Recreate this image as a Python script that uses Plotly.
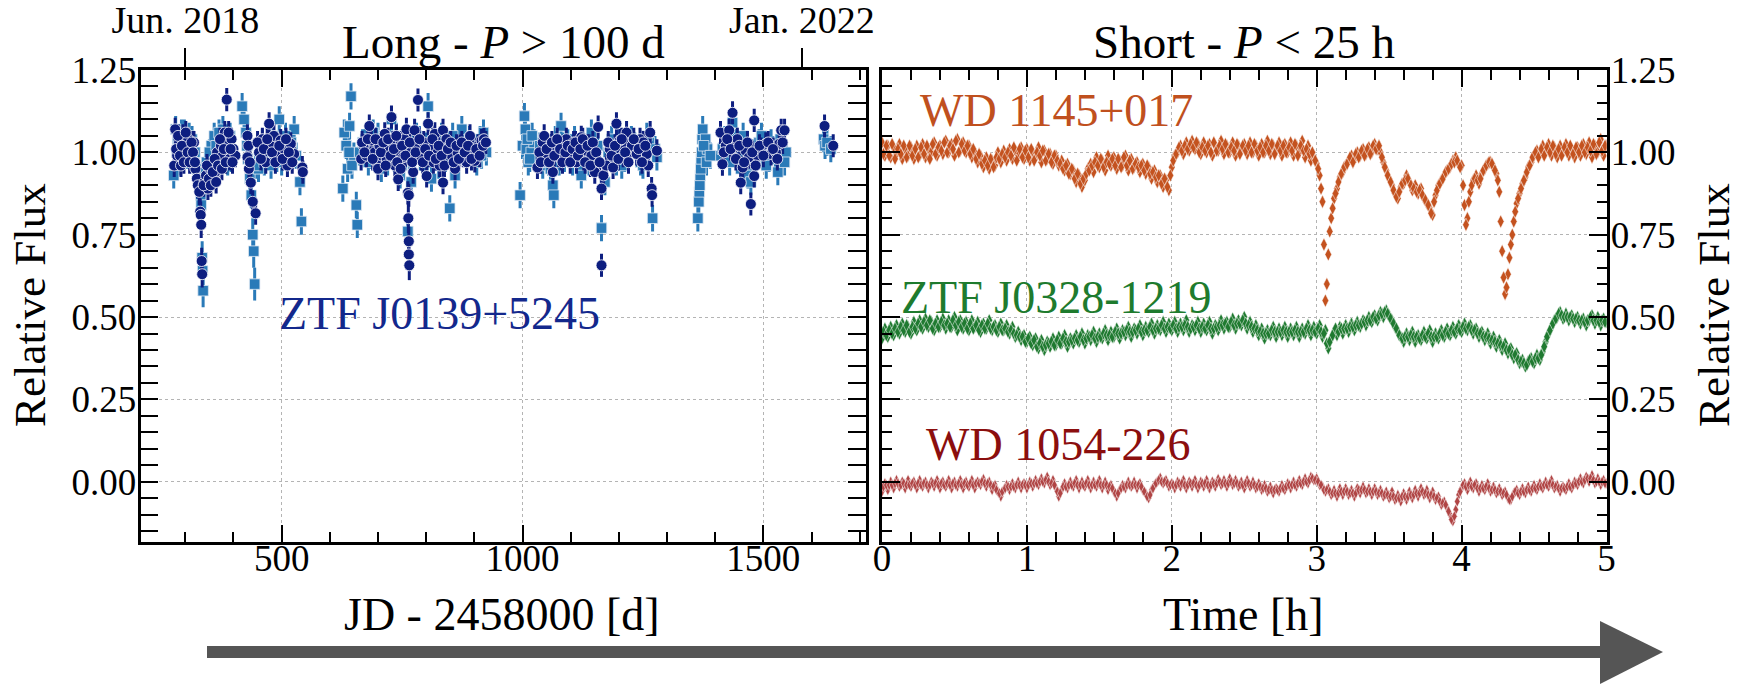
import plotly.graph_objects as go

W, H = 1741, 685
FONT = "Liberation Serif"

# ---------------- Long-period panel: ZTF J0139+5245 ----------------
sq_jd = [276, 280, 284, 288, 292, 296, 300, 304, 308, 312, 318, 324, 328, 332, 333, 335, 336, 337,
         342, 348, 354, 360, 366, 372, 378, 384, 390, 395,
         418, 422, 426, 430, 434, 437, 440, 442, 444, 452, 460, 468, 474, 482, 490, 495, 504, 512,
         520, 526, 538, 541,
         627, 630, 634, 637, 641, 644, 650, 655, 657, 668, 680, 693, 700, 707, 716, 728, 734, 738,
         746, 755, 762, 769, 776, 786, 795, 804, 811, 822, 832, 840, 849, 860, 868, 874, 884, 895,
         905, 912, 919, 925,
         995, 1000, 1004, 1006, 1008, 1012, 1018, 1024, 1030, 1042, 1050, 1058, 1063, 1065, 1072,
         1080, 1087, 1094, 1104, 1114, 1122, 1132, 1143, 1150, 1164, 1171, 1178, 1185, 1195, 1206,
         1218, 1233, 1245, 1254, 1263, 1270, 1279,
         1364, 1366, 1367, 1368, 1369, 1370, 1371, 1372, 1373, 1374, 1380, 1382, 1384, 1410, 1415,
         1425, 1436, 1442, 1453, 1462, 1468, 1474, 1484, 1491, 1500, 1512, 1520, 1530, 1540, 1547,
         1625, 1628, 1632, 1640,
         282, 290, 298, 306, 314, 320, 344, 350, 356, 364, 370, 376, 382, 388, 393,
         428, 446, 456, 464, 472, 478, 486, 500, 508, 516, 530,
         640, 646, 662, 674, 686, 690, 712, 720, 742, 750, 758, 766, 780, 790, 800, 815, 826, 836,
         845, 855, 864, 878, 890, 900, 915,
         1010, 1015, 1020, 1036, 1046, 1054, 1068, 1076, 1084, 1098, 1108, 1118, 1126, 1138, 1156,
         1190, 1200, 1212, 1226, 1240, 1250, 1258, 1275,
         1376, 1390, 1420, 1430, 1448, 1458, 1478, 1496, 1506, 1516, 1525, 1535, 1544]
sq_flux = [0.93, 1.07, 1.04, 1.02, 1.06, 1.00, 1.03, 0.99, 1.05, 1.01, 0.97, 0.95, 0.92, 0.87, 0.84, 0.68, 0.64, 0.58,
           0.94, 0.97, 1.02, 1.05, 0.99, 1.03, 1.07, 1.01, 1.04, 0.98,
           1.14, 1.10, 1.06, 0.98, 0.92, 0.87, 0.75, 0.70, 0.60, 0.95, 1.03, 0.99, 1.00, 1.05, 0.98, 1.10, 1.02, 0.98,
           1.03, 1.07, 0.91, 0.79,
           0.89, 1.06, 1.02, 0.95, 1.08, 1.17, 0.99, 0.84, 0.78, 1.03, 0.97, 1.02, 1.05, 0.95, 1.00, 1.10, 0.98, 1.05,
           0.93, 1.01, 0.76, 0.91, 0.99, 1.03, 0.96, 1.14, 0.92, 1.02, 1.05, 0.98, 0.83, 0.93, 1.01, 1.07, 0.99, 1.02,
           0.97, 1.04, 1.06, 1.00,
           0.87, 1.02, 1.11, 1.07, 1.01, 0.97, 1.00, 1.03, 0.98, 0.96, 1.02, 0.95, 0.90, 0.87, 1.00,
           1.08, 0.98, 1.03, 0.97, 1.01, 0.93, 1.00, 1.06, 0.98, 0.77, 0.91, 1.00, 1.04, 0.97, 0.96,
           1.01, 1.02, 0.97, 0.99, 1.03, 0.80, 0.985,
           0.80, 0.85, 0.88, 0.90, 0.93, 0.95, 0.98, 1.00, 1.04, 1.07, 1.04, 0.97, 1.01, 0.99, 1.01,
           1.00, 1.09, 1.03, 0.95, 1.00, 0.93, 0.91, 0.98, 1.03, 0.99, 0.98, 1.01, 0.94, 1.02, 1.00,
           1.04, 1.02, 1.03, 1.01,
           1.00, 0.97, 1.06, 1.02, 1.04, 1.00, 0.97, 1.00, 0.95, 1.02, 1.06, 0.99, 1.03, 0.97, 1.05,
           1.02, 0.96, 1.00, 0.97, 1.04, 0.96, 1.01, 0.97, 1.05, 1.00, 0.99,
           1.00, 0.96, 1.00, 1.04, 0.99, 1.06, 1.03, 0.97, 1.02, 0.96, 1.03, 0.98, 1.05, 0.99, 1.02, 1.00, 0.96, 1.03,
           1.00, 1.05, 0.98, 1.02, 1.04, 1.00, 0.99,
           1.04, 0.98, 1.05, 1.02, 1.00, 0.97, 1.04, 0.97, 1.02, 1.00, 1.04, 0.98, 1.02, 0.97, 1.02,
           0.99, 1.03, 0.98, 1.04, 1.00, 0.96, 1.05, 1.01,
           1.02, 0.99, 1.04, 0.97, 1.00, 1.05, 1.00, 1.05, 0.96, 1.03, 0.99, 1.04, 0.97]
sq_err = [0.04] * 15 + [0.05, 0.05, 0.05] + [0.04] * 16 + [0.05, 0.05, 0.05] + [0.04] * 36 + [0.05] + \
         [0.04] * (len(sq_jd) - 73)

ci_jd = [277, 279, 283, 287, 291, 295, 299, 303, 306, 310, 314, 318, 321, 324, 326, 329, 331, 332, 333, 334,
         335, 340, 343, 347, 351, 355, 358, 362, 366, 370, 374, 378, 382, 386, 388, 392, 396, 400, 404,
         429, 429, 432, 436, 440, 446, 453, 460, 467, 474, 477, 484, 491, 498, 505, 512, 519, 526, 543, 544,
         665, 670, 676, 682, 686, 693, 697, 703, 708, 714, 718, 724, 728, 731, 735, 742, 745, 748, 752,
         755, 759, 762, 764, 763, 764, 764, 765, 768, 773, 776, 780, 783, 790, 795, 801, 804, 811, 815,
         818, 824, 828, 835, 835, 842, 848, 853, 860, 865, 870, 877, 884, 891, 896, 901, 908, 915, 920,
         1031, 1042, 1047, 1052, 1058, 1063, 1070, 1075, 1080, 1086, 1091, 1096, 1101, 1106, 1112, 1117,
         1122, 1127, 1132, 1138, 1143, 1150, 1157, 1164, 1164, 1168, 1174, 1181, 1188, 1195, 1202, 1209,
         1216, 1222, 1227, 1237, 1244, 1251, 1258, 1261, 1265, 1268, 1269, 1279,
         1411, 1415, 1422, 1429, 1436, 1439, 1446, 1453, 1457, 1463, 1470, 1474, 1481, 1481, 1488, 1495,
         1505, 1516, 1526, 1533, 1537, 1544,
         1627, 1645,
         281, 285, 289, 293, 297, 301, 305, 309, 313, 316, 320, 338, 345, 349, 353, 357, 361, 364, 368,
         372, 376, 380, 384, 390, 394, 398,
         431, 434, 450, 457, 463, 470, 480, 487, 495, 502, 509, 515, 522,
         667, 672, 679, 689, 695, 700, 706, 711, 716, 721, 726, 733, 738, 740, 747, 750, 757, 766, 771,
         778, 786, 793, 798, 806, 813, 820, 826, 832, 838, 845, 851, 857, 863, 868, 874, 880, 887, 894,
         904, 911, 918, 924,
         1035, 1038, 1045, 1050, 1055, 1061, 1066, 1072, 1078, 1083, 1089, 1094, 1099, 1104, 1110, 1115,
         1120, 1125, 1130, 1135, 1141, 1146, 1153, 1160, 1178, 1185, 1192, 1199, 1206, 1213, 1220, 1231,
         1241, 1248, 1255,
         1418, 1425, 1432, 1443, 1450, 1460, 1467, 1477, 1484, 1492, 1500, 1510, 1520, 1529, 1540]
ci_flux = [0.96, 1.07, 0.99, 1.03, 0.96, 1.05, 1.02, 0.99, 1.04, 1.01, 0.98, 1.03, 0.95, 0.92, 0.90, 0.88, 0.82, 0.81, 0.78, 0.67,
           0.63, 0.91, 0.93, 0.89, 0.95, 0.92, 0.96, 0.94, 1.00, 0.97, 1.02, 0.99, 1.06, 1.16, 1.03, 0.98, 1.04, 1.01, 0.99,
           1.05, 0.985, 0.95, 0.908, 0.85, 0.815, 1.00, 1.04, 0.97, 1.087, 1.02, 1.05, 0.99, 1.036, 1.01, 0.96, 1.026, 0.995, 0.954, 0.94,
           0.98, 1.02, 0.99, 1.08, 1.036, 1.00, 0.97, 1.02, 0.99, 1.056, 0.98, 1.01, 1.107, 1.03, 0.96, 0.918, 1.00, 1.03, 0.985,
           1.04, 1.07, 0.877, 0.87, 0.80, 0.73, 0.69, 0.657, 1.00, 0.94, 1.067, 1.02, 1.159, 0.98, 1.03, 0.928, 1.087, 1.01, 0.97,
           1.056, 1.00, 0.96, 0.908, 1.067, 1.04, 1.02, 0.99, 0.95, 1.00, 1.02, 0.99, 0.97, 1.05, 1.01, 0.974, 1.02, 1.036, 1.04,
           0.954, 1.03, 1.00, 0.99, 1.02, 0.94, 1.01, 0.99, 0.98, 1.02, 1.04, 0.99, 1.00, 1.03, 0.97, 1.00,
           1.046, 0.98, 1.005, 1.02, 0.99, 0.94, 1.077, 0.89, 0.657, 0.93, 0.96, 1.01, 0.954, 1.087, 1.036, 0.99,
           1.06, 1.00, 1.02, 0.995, 1.04, 1.03, 0.995, 0.96, 1.06, 0.89, 0.87, 1.005,
           1.06, 0.964, 1.02, 1.067, 1.12, 1.015, 1.04, 0.908, 0.954, 1.005, 0.985, 0.843, 1.097, 0.928, 0.99, 1.01,
           1.026, 0.995, 1.00, 1.026, 1.067, 1.067,
           1.08, 1.02,
           1.01, 1.05, 0.99, 1.02, 0.97, 1.06, 1.00, 0.97, 1.03, 1.00, 0.97, 0.90, 0.96, 0.92, 0.90, 0.94, 0.98, 0.91, 0.96,
           1.04, 0.95, 1.01, 0.97, 1.06, 1.01, 0.97,
           1.02, 0.97, 1.03, 0.98, 1.01, 1.04, 1.00, 0.97, 1.02, 0.98, 1.04, 1.00, 0.97,
           1.03, 1.00, 1.04, 0.98, 1.04, 0.95, 1.00, 1.03, 0.96, 1.04, 0.99, 1.01, 1.05, 0.97, 0.95, 1.02, 0.99, 1.03, 0.97,
           1.00, 1.04, 0.97, 1.01, 0.99, 1.04, 0.98, 1.02, 0.99, 0.96, 1.01, 1.03, 0.97, 1.02, 0.98, 1.03, 1.00, 1.02, 0.98,
           1.01, 0.99, 1.02, 1.03,
           1.00, 0.97, 1.05, 1.01, 0.97, 1.03, 0.99, 1.04, 1.01, 0.97, 1.00, 1.02, 0.97, 1.01, 1.03, 0.99,
           1.01, 1.04, 0.97, 1.02, 0.96, 1.03, 1.00, 0.97, 1.03, 0.99, 1.02, 0.98, 1.04, 1.00, 0.97, 1.04,
           1.01, 0.97, 1.02,
           1.00, 1.04, 1.01, 0.98, 1.02, 0.97, 1.03, 1.00, 0.96, 1.02, 0.99, 1.03, 1.01, 0.98, 1.03]
ci_err = [0.035] * 14 + [0.04] * 7 + [0.035] * 61 + [0.045] * 4 + [0.035] * (len(ci_jd) - 86)

# ---------------- Short-period panel ----------------
# set A: samples at 0.00, 0.02, ... 5.00 h ; set B: samples at 0.01, 0.03, ... 4.99 h
T_STEP_H = 0.02
wd1145_flux_a = [
    1.03, 0.99, 1.02, 0.985, 1.015, 0.995, 1.025, 0.98, 1.01, 0.99,
    1.015, 0.98, 1.02, 0.99, 1.025, 0.985, 1.01, 1.00, 1.03, 0.99,
    1.02, 0.995, 1.035, 1.0, 1.025, 0.99, 1.04, 1.005, 1.03, 1.0,
    1.02, 0.985, 1.0, 0.97, 0.99, 0.955, 0.985, 0.95, 0.975, 0.96,
    1.0, 0.97, 1.005, 0.975, 1.01, 0.98, 1.005, 0.99, 1.015, 0.98,
    1.01, 0.975, 1.0, 0.985, 1.015, 0.97, 1.005, 0.98, 0.995, 0.965,
    0.99, 0.96, 0.975, 0.945, 0.965, 0.935, 0.945, 0.91, 0.93, 0.895,
    0.915, 0.95, 0.965, 0.94, 0.985, 0.955, 0.975, 0.945, 0.99, 0.96,
    0.985, 0.95, 0.975, 0.96, 0.99, 0.945, 0.98, 0.955, 0.97, 0.94,
    0.965, 0.935, 0.955, 0.92, 0.945, 0.91, 0.93, 0.895, 0.915, 0.885,
    0.955, 0.99, 1.0, 1.02, 0.995, 1.03, 1.005, 1.035, 1.01, 1.025,
    0.995, 1.03, 1.0, 1.025, 0.99, 1.02, 1.005, 1.035, 0.995, 1.02,
    1.0, 1.03, 0.99, 1.02, 1.005, 1.025, 0.995, 1.03, 1.0, 1.02,
    0.99, 1.025, 1.0, 1.035, 0.995, 1.02, 1.005, 1.03, 0.99, 1.025,
    1.0, 1.03, 0.99, 1.02, 1.0, 1.035, 0.985, 1.02, 0.975, 0.985,
    0.965, 0.93, 0.85, 0.55, 0.69, 0.80, 0.86, 0.89, 0.925, 0.94,
    0.96, 0.975, 0.99, 0.98, 1.0, 0.99, 1.01, 0.995, 1.015, 1.0,
    1.025, 1.01, 1.0, 0.97, 0.945, 0.92, 0.9, 0.875, 0.86, 0.895,
    0.905, 0.93, 0.91, 0.885, 0.9, 0.875, 0.89, 0.86, 0.845, 0.83,
    0.81, 0.87, 0.9, 0.915, 0.93, 0.945, 0.955, 0.975, 0.985, 0.965,
    0.96, 0.84, 0.80, 0.88, 0.915, 0.93, 0.905, 0.935, 0.95, 0.965,
    0.97, 0.955, 0.935, 0.88, 0.70, 0.57, 0.63, 0.72, 0.79, 0.845,
    0.875, 0.905, 0.925, 0.955, 0.97, 0.99, 1.005, 0.995, 1.02, 1.0,
    1.025, 0.99, 1.015, 0.985, 1.02, 1.0, 1.025, 0.99, 1.01, 0.985,
    1.015, 0.99, 1.025, 0.995, 1.03, 0.985, 1.02, 1.0, 1.04, 0.99,
    1.02]
wd1145_flux_b = [
    0.995, 1.02, 0.99, 1.025, 0.98, 1.01, 0.995, 1.02, 0.985, 1.02,
    0.99, 1.01, 0.985, 1.015, 0.995, 1.02, 0.98, 1.025, 0.995, 1.015,
    1.005, 1.03, 1.0, 1.02, 1.01, 1.035, 1.0, 1.025, 1.005, 1.02,
    0.995, 1.01, 0.98, 0.995, 0.965, 0.975, 0.96, 0.98, 0.955, 0.985,
    0.98, 0.995, 0.985, 1.0, 0.99, 1.015, 0.975, 1.01, 0.985, 1.005,
    0.985, 1.01, 0.975, 1.0, 0.99, 1.005, 0.975, 0.995, 0.97, 0.99,
    0.975, 0.965, 0.95, 0.96, 0.935, 0.95, 0.92, 0.935, 0.905, 0.92,
    0.935, 0.945, 0.96, 0.97, 0.96, 0.98, 0.955, 0.97, 0.965, 0.98,
    0.96, 0.98, 0.955, 0.985, 0.96, 0.975, 0.95, 0.965, 0.955, 0.96,
    0.945, 0.96, 0.935, 0.94, 0.925, 0.93, 0.905, 0.92, 0.895, 0.93,
    0.975, 0.995, 1.015, 1.005, 1.02, 1.01, 1.025, 1.015, 1.03, 1.0,
    1.015, 1.005, 1.02, 1.0, 1.03, 1.005, 1.02, 1.01, 1.025, 1.0,
    1.015, 1.005, 1.025, 0.995, 1.02, 1.005, 1.02, 1.0, 1.025, 1.005,
    1.015, 1.0, 1.02, 1.005, 1.025, 0.995, 1.02, 1.005, 1.02, 1.0,
    1.015, 1.005, 1.025, 0.99, 1.02, 1.005, 1.01, 0.995, 1.0, 0.975,
    0.95, 0.89, 0.72, 0.60, 0.76, 0.83, 0.875, 0.91, 0.935, 0.955,
    0.965, 0.985, 0.97, 0.995, 0.985, 1.005, 0.99, 1.01, 0.995, 1.02,
    1.01, 1.02, 0.985, 0.955, 0.93, 0.91, 0.885, 0.865, 0.88, 0.905,
    0.915, 0.92, 0.9, 0.89, 0.88, 0.885, 0.87, 0.855, 0.84, 0.815,
    0.85, 0.885, 0.905, 0.92, 0.94, 0.95, 0.965, 0.97, 0.975, 0.955,
    0.9, 0.78, 0.85, 0.9, 0.92, 0.915, 0.92, 0.945, 0.96, 0.97,
    0.965, 0.945, 0.915, 0.79, 0.62, 0.59, 0.68, 0.75, 0.82, 0.86,
    0.89, 0.915, 0.94, 0.96, 0.985, 1.0, 0.985, 1.01, 0.99, 1.015,
    1.0, 1.02, 0.995, 1.01, 0.99, 1.015, 1.0, 1.02, 0.995, 1.015,
    1.0, 1.02, 1.0, 1.015, 1.005, 1.025, 0.995, 1.03, 1.005, 1.02]
ztf0328_flux_a = [
    0.435, 0.465, 0.44, 0.47, 0.445, 0.475, 0.45, 0.48, 0.455, 0.47,
    0.45, 0.485, 0.46, 0.49, 0.465, 0.495, 0.47, 0.485, 0.46, 0.49,
    0.47, 0.495, 0.465, 0.49, 0.47, 0.5, 0.46, 0.49, 0.465, 0.485,
    0.46, 0.49, 0.47, 0.485, 0.455, 0.48, 0.465, 0.49, 0.46, 0.475,
    0.455, 0.48, 0.46, 0.475, 0.45, 0.47, 0.44, 0.455, 0.43, 0.445,
    0.425, 0.44, 0.415, 0.435, 0.405, 0.43, 0.4, 0.425, 0.41, 0.435,
    0.415, 0.44, 0.42, 0.445, 0.41, 0.435, 0.42, 0.445, 0.425, 0.45,
    0.42, 0.445, 0.43, 0.455, 0.425, 0.45, 0.435, 0.46, 0.43, 0.455,
    0.44, 0.465, 0.435, 0.46, 0.445, 0.47, 0.44, 0.465, 0.45, 0.475,
    0.445, 0.47, 0.455, 0.48, 0.45, 0.475, 0.46, 0.485, 0.455, 0.48,
    0.46, 0.485, 0.455, 0.48, 0.46, 0.49, 0.455, 0.475, 0.46, 0.485,
    0.455, 0.48, 0.46, 0.485, 0.45, 0.475, 0.46, 0.49, 0.465, 0.485,
    0.47, 0.495, 0.465, 0.49, 0.475, 0.5, 0.465, 0.485, 0.455, 0.475,
    0.445, 0.465, 0.435, 0.46, 0.445, 0.47, 0.44, 0.465, 0.445, 0.47,
    0.44, 0.465, 0.445, 0.47, 0.44, 0.465, 0.45, 0.475, 0.445, 0.47,
    0.45, 0.475, 0.44, 0.46, 0.405, 0.435, 0.455, 0.445, 0.47, 0.45,
    0.475, 0.455, 0.48, 0.46, 0.485, 0.47, 0.49, 0.475, 0.5, 0.485,
    0.505, 0.49, 0.515, 0.5, 0.52, 0.505, 0.49, 0.47, 0.455, 0.44,
    0.425, 0.45, 0.43, 0.455, 0.425, 0.445, 0.43, 0.455, 0.435, 0.46,
    0.425, 0.45, 0.435, 0.46, 0.44, 0.465, 0.445, 0.47, 0.45, 0.475,
    0.455, 0.48, 0.46, 0.475, 0.45, 0.465, 0.44, 0.455, 0.43, 0.45,
    0.42, 0.44, 0.41, 0.43, 0.4, 0.42, 0.39, 0.405, 0.375, 0.39,
    0.36, 0.37, 0.35, 0.365, 0.375, 0.36, 0.385, 0.37, 0.395, 0.425,
    0.45, 0.47, 0.49, 0.5, 0.515, 0.495, 0.51, 0.49, 0.505, 0.485,
    0.5, 0.48, 0.495, 0.475, 0.49, 0.505, 0.48, 0.5, 0.475, 0.495,
    0.485]
ztf0328_flux_b = [
    0.455, 0.445, 0.46, 0.45, 0.465, 0.455, 0.47, 0.46, 0.475, 0.455,
    0.47, 0.465, 0.48, 0.47, 0.485, 0.475, 0.49, 0.465, 0.48, 0.47,
    0.485, 0.475, 0.48, 0.47, 0.49, 0.475, 0.485, 0.47, 0.48, 0.465,
    0.48, 0.465, 0.475, 0.46, 0.475, 0.465, 0.48, 0.465, 0.47, 0.46,
    0.47, 0.46, 0.465, 0.455, 0.46, 0.45, 0.445, 0.44, 0.44, 0.425,
    0.435, 0.42, 0.43, 0.41, 0.42, 0.41, 0.415, 0.42, 0.425, 0.415,
    0.43, 0.42, 0.435, 0.425, 0.425, 0.43, 0.435, 0.43, 0.44, 0.43,
    0.435, 0.44, 0.445, 0.435, 0.44, 0.44, 0.45, 0.445, 0.445, 0.44,
    0.455, 0.45, 0.45, 0.455, 0.46, 0.455, 0.455, 0.46, 0.465, 0.455,
    0.46, 0.46, 0.47, 0.46, 0.465, 0.465, 0.475, 0.465, 0.47, 0.465,
    0.475, 0.465, 0.47, 0.47, 0.475, 0.47, 0.465, 0.47, 0.475, 0.465,
    0.47, 0.465, 0.475, 0.465, 0.465, 0.47, 0.475, 0.475, 0.48, 0.47,
    0.485, 0.475, 0.48, 0.48, 0.49, 0.48, 0.475, 0.47, 0.465, 0.46,
    0.455, 0.45, 0.45, 0.45, 0.46, 0.455, 0.455, 0.455, 0.46, 0.455,
    0.455, 0.455, 0.46, 0.455, 0.455, 0.455, 0.465, 0.46, 0.46, 0.455,
    0.465, 0.455, 0.45, 0.42, 0.425, 0.445, 0.465, 0.455, 0.465, 0.465,
    0.465, 0.47, 0.47, 0.475, 0.475, 0.48, 0.485, 0.49, 0.49, 0.5,
    0.495, 0.505, 0.51, 0.515, 0.51, 0.495, 0.48, 0.465, 0.445, 0.435,
    0.44, 0.44, 0.445, 0.44, 0.44, 0.435, 0.445, 0.44, 0.45, 0.44,
    0.44, 0.44, 0.45, 0.445, 0.455, 0.45, 0.46, 0.455, 0.465, 0.46,
    0.47, 0.465, 0.47, 0.46, 0.46, 0.45, 0.45, 0.44, 0.44, 0.435,
    0.43, 0.425, 0.42, 0.415, 0.41, 0.4, 0.4, 0.385, 0.385, 0.37,
    0.365, 0.36, 0.355, 0.37, 0.365, 0.375, 0.375, 0.385, 0.41, 0.44,
    0.46, 0.48, 0.495, 0.51, 0.505, 0.5, 0.5, 0.5, 0.495, 0.495,
    0.49, 0.49, 0.485, 0.49, 0.5, 0.49, 0.49, 0.485, 0.49, 0.485]
wd1054_flux_a = [
    -0.03, -0.005, -0.025, 0.0, -0.02, 0.005, -0.015, 0.0, -0.02, 0.005,
    -0.015, 0.0, -0.02, 0.005, -0.015, 0.0, -0.02, 0.0, -0.015, 0.005,
    -0.02, 0.0, -0.015, 0.005, -0.02, 0.0, -0.015, 0.005, -0.02, 0.0,
    -0.015, 0.005, -0.02, 0.0, -0.01, 0.008, -0.015, 0.0, -0.025, -0.01,
    -0.03, -0.045, -0.025, -0.01, -0.025, -0.005, -0.02, 0.0, -0.02, -0.005,
    -0.02, 0.0, -0.015, 0.005, -0.01, 0.01, -0.005, 0.015, -0.01, 0.005,
    -0.02, -0.045, -0.025, -0.005, -0.02, 0.0, -0.015, 0.005, -0.02, 0.0,
    -0.015, 0.005, -0.02, 0.0, -0.015, 0.005, -0.02, 0.0, -0.025, -0.01,
    -0.03, -0.045, -0.025, -0.01, -0.02, 0.0, -0.015, 0.0, -0.02, -0.005,
    -0.025, -0.035, -0.05, -0.025, -0.01, 0.0, 0.012, -0.005, 0.005, -0.015,
    -0.005, -0.02, 0.0, -0.015, 0.005, -0.02, 0.0, -0.015, 0.005, -0.02,
    0.0, -0.015, 0.005, -0.02, 0.0, -0.015, 0.008, -0.01, 0.005, -0.015,
    0.01, -0.01, 0.005, -0.015, 0.0, -0.02, 0.005, -0.015, 0.0, -0.02,
    -0.005, -0.025, -0.01, -0.03, -0.015, -0.035, -0.02, -0.03, -0.01, -0.025,
    -0.005, -0.02, 0.0, -0.015, 0.005, -0.01, 0.01, -0.005, 0.015, 0.005,
    0.01, -0.01, -0.015, -0.03, -0.02, -0.04, -0.025, -0.045, -0.02, -0.04,
    -0.02, -0.04, -0.025, -0.045, -0.02, -0.035, -0.015, -0.035, -0.02, -0.04,
    -0.02, -0.04, -0.025, -0.045, -0.03, -0.05, -0.03, -0.055, -0.04, -0.06,
    -0.035, -0.055, -0.03, -0.05, -0.025, -0.045, -0.02, -0.04, -0.025, -0.05,
    -0.03, -0.055, -0.045, -0.07, -0.06, -0.08, -0.1, -0.12, -0.085, -0.04,
    -0.02, -0.005, -0.025, 0.0, -0.02, -0.005, -0.03, -0.01, -0.025, -0.005,
    -0.03, -0.015, -0.035, -0.02, -0.04, -0.03, -0.05, -0.055, -0.035, -0.025,
    -0.04, -0.02, -0.035, -0.015, -0.03, -0.01, -0.025, -0.005, -0.02, 0.0,
    -0.015, 0.005, -0.02, -0.01, -0.03, -0.015, -0.025, -0.005, -0.02, 0.0,
    -0.01, 0.01, -0.005, 0.015, 0.0, 0.02, -0.005, 0.01, -0.01, 0.005,
    -0.005]
wd1054_flux_b = [
    -0.015, -0.01, -0.01, -0.01, -0.005, -0.005, -0.01, -0.005, -0.01, -0.01,
    -0.005, -0.01, -0.005, -0.01, -0.005, -0.01, -0.01, -0.005, -0.005, -0.01,
    -0.005, -0.01, -0.005, -0.01, -0.005, -0.01, -0.005, -0.01, -0.005, -0.01,
    -0.005, -0.01, -0.005, -0.005, 0.0, -0.005, -0.005, -0.01, -0.015, -0.025,
    -0.035, -0.03, -0.02, -0.015, -0.015, -0.015, -0.01, -0.01, -0.01, -0.01,
    -0.01, -0.005, -0.005, -0.005, 0.0, 0.0, 0.005, 0.0, -0.005, -0.01,
    -0.03, -0.035, -0.015, -0.015, -0.01, -0.01, -0.005, -0.01, -0.01, -0.01,
    -0.005, -0.01, -0.01, -0.01, -0.005, -0.01, -0.01, -0.01, -0.015, -0.02,
    -0.035, -0.035, -0.02, -0.015, -0.01, -0.01, -0.01, -0.01, -0.01, -0.015,
    -0.03, -0.045, -0.04, -0.02, -0.005, 0.005, 0.0, 0.0, -0.005, -0.01,
    -0.01, -0.01, -0.005, -0.005, -0.01, -0.01, -0.005, -0.005, -0.01, -0.01,
    -0.005, -0.005, -0.01, -0.01, -0.005, -0.005, 0.0, -0.005, -0.005, -0.005,
    0.0, -0.005, -0.005, -0.01, -0.01, -0.005, -0.005, -0.01, -0.01, -0.015,
    -0.015, -0.02, -0.02, -0.025, -0.025, -0.025, -0.025, -0.02, -0.02, -0.015,
    -0.01, -0.01, -0.01, -0.005, -0.005, 0.0, 0.0, 0.005, 0.01, 0.005,
    0.0, -0.01, -0.025, -0.025, -0.03, -0.035, -0.035, -0.035, -0.03, -0.03,
    -0.03, -0.035, -0.035, -0.035, -0.025, -0.025, -0.025, -0.03, -0.03, -0.03,
    -0.03, -0.035, -0.035, -0.04, -0.04, -0.045, -0.045, -0.05, -0.05, -0.045,
    -0.045, -0.045, -0.04, -0.04, -0.035, -0.035, -0.03, -0.035, -0.04, -0.04,
    -0.045, -0.05, -0.06, -0.065, -0.07, -0.09, -0.115, -0.105, -0.06, -0.03,
    -0.01, -0.015, -0.01, -0.015, -0.01, -0.02, -0.02, -0.02, -0.015, -0.02,
    -0.025, -0.025, -0.03, -0.03, -0.035, -0.04, -0.055, -0.045, -0.03, -0.035,
    -0.03, -0.03, -0.025, -0.025, -0.02, -0.02, -0.015, -0.015, -0.01, -0.01,
    -0.005, -0.01, -0.015, -0.02, -0.02, -0.02, -0.015, -0.015, -0.01, -0.005,
    0.0, 0.0, 0.005, 0.01, 0.01, 0.005, 0.0, 0.0, 0.0, -0.005]
t_hours_a = [round(i * T_STEP_H, 2) for i in range(len(wd1145_flux_a))]
t_hours_b = [round(0.01 + i * T_STEP_H, 2) for i in range(len(wd1145_flux_b))]

flux_ticks = [0.0, 0.25, 0.5, 0.75, 1.0, 1.25]
flux_ticktext = ["%.2f" % v for v in flux_ticks]
long_ticks = [500, 1000, 1500]
date_ticks = [300, 1580]
date_labels = ["Jun. 2018", "Jan. 2022"]

C_SQ = "#2a7ab8"
C_CI = "#0d1e80"
C_1145 = "#c4521f"
C_0328 = "#1f7a30"
C_1054 = "#b04545"

fig = go.Figure()
fig.add_trace(go.Scatter(
    x=sq_jd, y=sq_flux, mode="markers", xaxis="x", yaxis="y",
    marker=dict(symbol="square", size=10.5, color=C_SQ, line=dict(color="#dfe9f3", width=0.8)),
    error_y=dict(type="data", array=sq_err, color=C_SQ, thickness=3, width=0),
    showlegend=False))
fig.add_trace(go.Scatter(
    x=ci_jd, y=ci_flux, mode="markers", xaxis="x", yaxis="y",
    marker=dict(symbol="circle", size=11, color=C_CI, line=dict(color="white", width=0.8)),
    error_y=dict(type="data", array=ci_err, color=C_CI, thickness=3, width=0),
    showlegend=False))
# carrier for the calendar-date axis on top of the long panel
fig.add_trace(go.Scatter(x=date_ticks, y=[None, None], mode="markers", xaxis="x3", yaxis="y",
                         showlegend=False, hoverinfo="skip"))

short_series = [
    (wd1145_flux_a, wd1145_flux_b, C_1145, 9.5),
    (ztf0328_flux_a, ztf0328_flux_b, C_0328, 9.5),
    (wd1054_flux_a, wd1054_flux_b, C_1054, 8),
]
for fa, fb, col, sz in short_series:
    fig.add_trace(go.Scatter(
        x=t_hours_a + t_hours_b, y=fa + fb, mode="markers", xaxis="x2", yaxis="y2",
        marker=dict(symbol="diamond-tall", size=sz, color=col, line=dict(color="white", width=0.5)),
        showlegend=False))

Y0, Y1 = 70, 542
ydom = [1 - Y1 / H, 1 - Y0 / H]
axis_common = dict(
    showline=True, linewidth=2.5, linecolor="black", mirror="allticks",
    ticks="inside", tickwidth=2, tickcolor="black", automargin=False,
    showgrid=True, gridcolor="#b4b4b4", griddash="dot", gridwidth=1,
    zeroline=False, tickfont=dict(family=FONT, size=37, color="black"),
)
minor_common = dict(ticks="inside", ticklen=10, tickwidth=2, tickcolor="black", showgrid=False)

fig.update_layout(
    template="none",
    width=W, height=H, margin=dict(l=0, r=0, t=0, b=0, pad=0),
    paper_bgcolor="white", plot_bgcolor="white",
    font=dict(family=FONT, color="black"),
    xaxis=dict(domain=[140.5 / W, 865.5 / W], range=[207, 1712], anchor="y",
               tickvals=long_ticks, ticklen=17, ticklabelstandoff=-18,
               minor=dict(dtick=100, tick0=0, **minor_common), **axis_common),
    yaxis=dict(domain=ydom, range=[-0.183, 1.25], anchor="x",
               tickvals=flux_ticks, ticktext=flux_ticktext, ticklen=18, ticklabelstandoff=-6,
               minor=dict(dtick=0.05, tick0=0, **minor_common), **axis_common),
    xaxis2=dict(domain=[882 / W, 1606.5 / W], range=[0, 5], anchor="y2",
                tickvals=[0, 1, 2, 3, 4, 5], ticklen=17, ticklabelstandoff=-18,
                minor=dict(dtick=0.2, tick0=0, **minor_common), **axis_common),
    yaxis2=dict(domain=ydom, range=[-0.183, 1.25], anchor="x2", side="right",
                tickvals=flux_ticks, ticktext=flux_ticktext, ticklen=18, ticklabelstandoff=-6,
                minor=dict(dtick=0.05, tick0=0, **minor_common), **axis_common),
    xaxis3=dict(overlaying="x", side="top", anchor="y", range=[207, 1712], automargin=False,
                tickvals=date_ticks, ticktext=date_labels, ticks="outside",
                ticklen=21, tickwidth=2, tickcolor="black", showline=False,
                showgrid=False, zeroline=False,
                tickfont=dict(family=FONT, size=38, color="black")),
)


def P(x, y):
    return x / W, 1 - y / H


annots = [
    ("Long - <i>P</i> &gt; 100 d", 503, 42, 47, "black", 0),
    ("Short - <i>P</i> &lt; 25 h", 1244, 42, 47, "black", 0),
    ("JD - 2458000 [d]", 502, 614, 46, "black", 0),
    ("Time [h]", 1243, 614, 46, "black", 0),
    ("Relative Flux", 30, 305, 45, "black", -90),
    ("Relative Flux", 1714, 305, 45, "black", -90),
    ("ZTF J0139+5245", 439, 313, 46, "#13288c", 0),
    ("WD 1145+017", 1056, 110, 46, "#c0501e", 0),
    ("ZTF J0328-1219", 1056, 297, 46, "#1e7b2e", 0),
    ("WD 1054-226", 1058, 444, 46, "#8b0e0e", 0),
]
for text, px, py, size, col, ang in annots:
    ax, ay = P(px, py)
    fig.add_annotation(text=text, x=ax, y=ay, xref="paper", yref="paper",
                       xanchor="center", yanchor="middle", showarrow=False,
                       textangle=ang, font=dict(family=FONT, size=size, color=col))

# direction arrow below the panels
ARROW_C = "#555555"
x0, y0 = P(207, 646)
x1, y1 = P(1601, 658)
fig.add_shape(type="rect", xref="paper", yref="paper", x0=x0, x1=x1, y0=y1, y1=y0,
              fillcolor=ARROW_C, line=dict(width=0))
hx, hy_top = P(1600, 621)
_, hy_bot = P(1600, 684)
tx, ty = P(1663, 652)
fig.add_shape(type="path", xref="paper", yref="paper",
              path=f"M {hx} {hy_top} L {tx} {ty} L {hx} {hy_bot} Z",
              fillcolor=ARROW_C, line=dict(width=0))

fig.write_html("out.html")
